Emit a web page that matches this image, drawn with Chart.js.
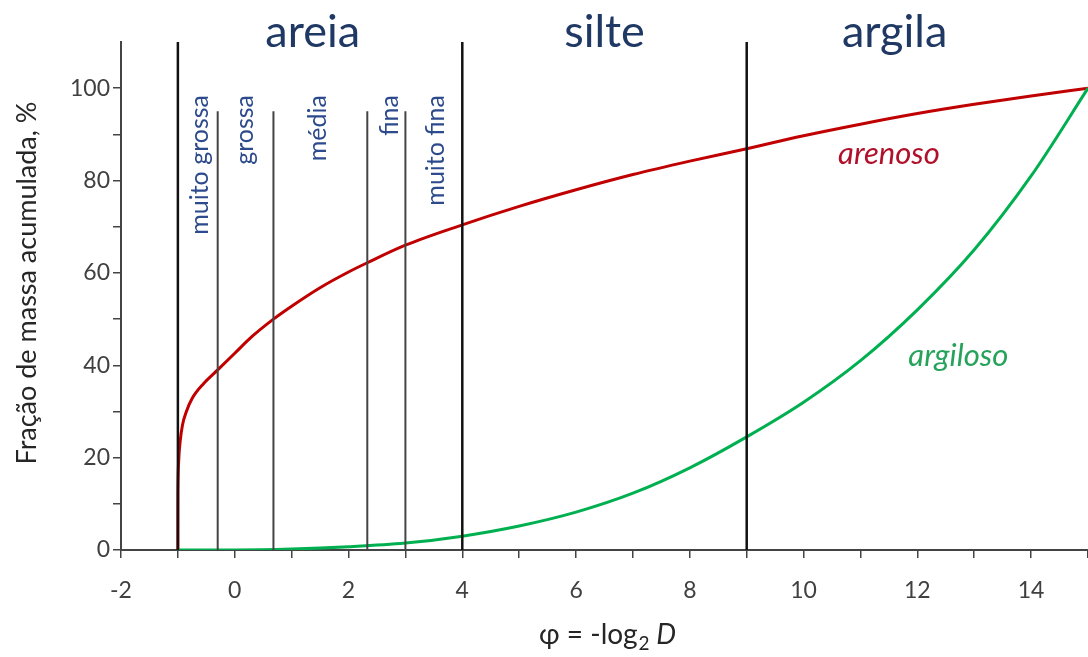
<!DOCTYPE html>
<html>
<head>
<meta charset="utf-8">
<script src="https://cdn.jsdelivr.net/npm/chart.js@4.4.1/dist/chart.umd.min.js"></script>
<style>
  html, body { margin: 0; padding: 0; background: #fff; }
  #wrap { width: 1088px; height: 657px; position: relative; }
</style>
</head>
<body>
<div id="wrap"><canvas id="c" width="1088" height="657"></canvas></div>
<script>
// ---- data ----
const arenosoPhi = [-1, -0.999, -0.996, -0.985, -0.96, -0.92, -0.85, -0.75, -0.55, -0.3, 0, 0.3, 0.68, 1, 1.5, 2, 2.33, 3, 4, 5, 6, 7, 8, 9, 10, 11, 12, 13, 14, 15];
const arenosoVal = [0, 10, 15, 19.5, 23.5, 27, 30, 32.8, 36, 39, 42.6, 46.2, 50, 52.8, 56.8, 60.2, 62.2, 66, 70.4, 74.4, 78, 81.3, 84.2, 86.9, 89.7, 92.2, 94.5, 96.5, 98.3, 100];
const argilosoPhi = [-1, 0, 1, 2, 3, 4, 5, 6, 7, 8, 9, 10, 11, 12, 13, 14, 15];
const argilosoVal = [0, 0, 0.2, 0.7, 1.5, 3, 5.2, 8.2, 12.3, 17.8, 24.5, 32, 41, 52, 65, 81, 100];
const majorBounds = [-1, 4, 9];
const majorBoundTop = 110;
const minorBounds = [-0.3, 0.68, 2.33, 3.0];
const minorBoundTop = 95;
const fractionNames = ['areia', 'silte', 'argila'];
const fractionAnchorX = [1.37, 6.5, 11.6];
const sandClasses = ['muito grossa', 'grossa', 'média', 'fina', 'muito fina'];
const sandClassAnchorX = [-0.61, 0.18, 1.46, 2.72, 3.54];
const curveNames = ['arenoso', 'argiloso'];
const curveLabelAnchor = [[11.5, 85.7], [12.72, 42]];
const xTickMin = -2, xTickMax = 15, yTickMin = 0, yTickMax = 110;

// ---- build datasets ----
const toPts = (xs, ys) => xs.map((x, i) => ({ x: x, y: ys[i] }));
const datasets = [];
majorBounds.forEach(b => datasets.push({
  data: [{ x: b, y: 0 }, { x: b, y: majorBoundTop }],
  borderColor: '#111', borderWidth: 2.5, pointRadius: 0, showLine: true, tension: 0
}));
minorBounds.forEach(b => datasets.push({
  data: [{ x: b, y: 0 }, { x: b, y: minorBoundTop }],
  borderColor: '#444', borderWidth: 2, pointRadius: 0, showLine: true, tension: 0
}));
datasets.push({
  data: toPts(argilosoPhi, argilosoVal),
  borderColor: '#00b050', borderWidth: 3, pointRadius: 0, showLine: true,
  cubicInterpolationMode: 'monotone'
});
datasets.push({
  data: toPts(arenosoPhi, arenosoVal),
  borderColor: '#c00000', borderWidth: 3, pointRadius: 0, showLine: true,
  cubicInterpolationMode: 'monotone'
});

const FONT = 'Lato, Carlito, "Open Sans", sans-serif';

const textPlugin = {
  id: 'texts',
  afterDraw(chart) {
    const ctx = chart.ctx;
    const xs = chart.scales.x, ys = chart.scales.y;
    ctx.save();
    // fraction names
    ctx.fillStyle = '#1f3864';
    ctx.font = '45px ' + FONT;
    ctx.textAlign = 'center';
    ctx.textBaseline = 'alphabetic';
    fractionNames.forEach((t, i) => {
      ctx.fillText(t, xs.getPixelForValue(fractionAnchorX[i]), 47);
    });
    // sand classes (rotated)
    ctx.fillStyle = '#2c4a8c';
    ctx.font = '25px ' + FONT;
    sandClasses.forEach((t, i) => {
      ctx.save();
      ctx.translate(xs.getPixelForValue(sandClassAnchorX[i]), 95);
      ctx.rotate(-Math.PI / 2);
      ctx.textAlign = 'right';
      ctx.textBaseline = 'middle';
      ctx.fillText(t, 0, 0);
      ctx.restore();
    });
    // curve names
    ctx.font = 'italic 31px ' + FONT;
    ctx.textAlign = 'center';
    ctx.textBaseline = 'middle';
    ctx.fillStyle = '#b0102a';
    ctx.fillText(curveNames[0], xs.getPixelForValue(curveLabelAnchor[0][0]), ys.getPixelForValue(curveLabelAnchor[0][1]));
    ctx.fillStyle = '#25a35a';
    ctx.fillText(curveNames[1], xs.getPixelForValue(curveLabelAnchor[1][0]), ys.getPixelForValue(curveLabelAnchor[1][1]));
    // y title
    ctx.save();
    ctx.fillStyle = '#262626';
    ctx.font = '27px ' + FONT;
    ctx.translate(27, 283);
    ctx.rotate(-Math.PI / 2);
    ctx.textAlign = 'center';
    ctx.textBaseline = 'middle';
    ctx.fillText('Fração de massa acumulada, %', 0, 0);
    ctx.restore();
    // x title: φ = -log2 D
    const base = 644;
    const f1 = '28px ' + FONT, f2 = '19px ' + FONT, f3 = 'italic 28px ' + FONT;
    const p1 = 'φ = -log', p2 = '2', p3 = ' D';
    ctx.font = f1; const w1 = ctx.measureText(p1).width;
    ctx.font = f2; const w2 = ctx.measureText(p2).width;
    ctx.font = f3; const w3 = ctx.measureText(p3).width;
    let x0 = 607 - (w1 + w2 + w3) / 2;
    ctx.fillStyle = '#262626';
    ctx.textAlign = 'left';
    ctx.textBaseline = 'alphabetic';
    ctx.font = f1; ctx.fillText(p1, x0, base); x0 += w1;
    ctx.font = f2; ctx.fillText(p2, x0 + 1, base + 6); x0 += w2 + 1;
    ctx.font = f3; ctx.fillText(p3, x0, base);
    ctx.restore();
  }
};

new Chart(document.getElementById('c'), {
  type: 'scatter',
  data: { datasets: datasets },
  options: {
    responsive: false,
    animation: false,
    layout: { padding: { top: 42, right: 0, left: 0, bottom: 0 } },
    plugins: { legend: { display: false }, tooltip: { enabled: false } },
    scales: {
      x: {
        type: 'linear', min: xTickMin, max: xTickMax,
        afterFit: s => { s.height = 107; s.paddingRight = 0; s.paddingLeft = 0; },
        ticks: {
          stepSize: 1, autoSkip: false, maxRotation: 0, padding: 19,
          color: '#404040', font: { family: FONT, size: 23 },
          callback: v => (v % 2 === 0 ? String(v) : '')
        },
        grid: { drawOnChartArea: false, drawTicks: true, tickLength: 8, color: '#444', lineWidth: 1.5 },
        border: { color: '#444', width: 2 }
      },
      y: {
        type: 'linear', min: yTickMin, max: yTickMax,
        afterFit: s => { s.width = 121; s.paddingTop = 0; s.paddingBottom = 0; },
        ticks: {
          stepSize: 10, autoSkip: false, padding: 3,
          color: '#404040', font: { family: FONT, size: 23 },
          callback: v => (v % 20 === 0 && v <= 100 ? String(v) : '')
        },
        grid: {
          drawOnChartArea: false, drawTicks: true, tickLength: 8, lineWidth: 1.5,
          color: c => (c.tick && c.tick.value === 110 ? 'rgba(0,0,0,0)' : '#444')
        },
        border: { color: '#444', width: 2 }
      }
    }
  },
  plugins: [textPlugin]
});
</script>
</body>
</html>
